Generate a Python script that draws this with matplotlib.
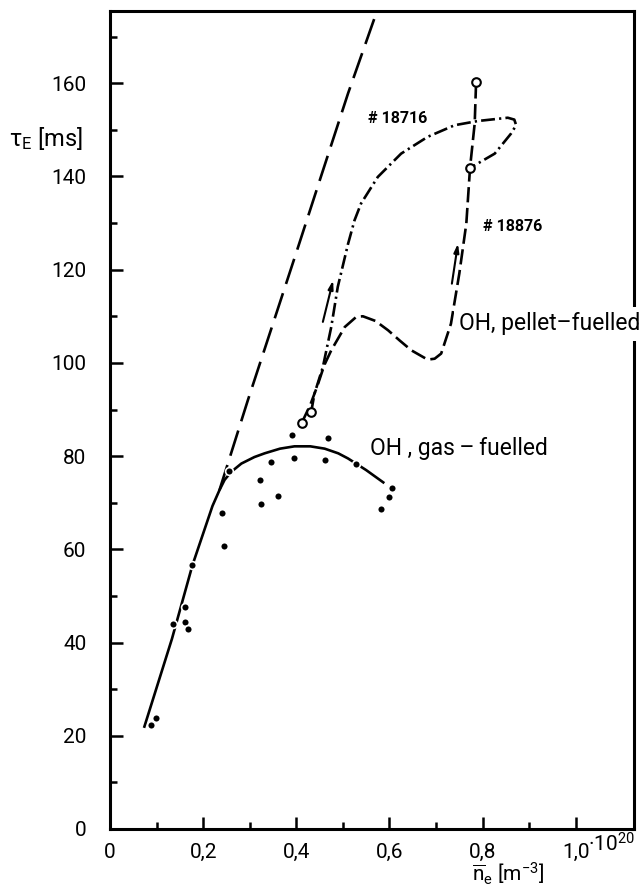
import matplotlib.pyplot as plt
from matplotlib.ticker import FixedLocator, MultipleLocator

plt.rcParams['font.family'] = ['Roboto', 'DejaVu Sans']
plt.rcParams['mathtext.fontset'] = 'custom'
plt.rcParams['mathtext.rm'] = 'Roboto'
plt.rcParams['mathtext.it'] = 'Roboto:italic'
plt.rcParams['lines.scale_dashes'] = False

# ohmic scaling line (dashed)
scal_ne = [0.235, 0.296, 0.361, 0.403, 0.453, 0.511, 0.575]
scal_tau = [72.7, 92.0, 111.8, 124.6, 140.0, 157.8, 176.0]

# OH gas-fuelled: fitted curve and measured points
gas_ne = [0.073, 0.133, 0.177, 0.220, 0.235, 0.246, 0.260, 0.282, 0.310, 0.332,
          0.365, 0.396, 0.430, 0.461, 0.490, 0.511, 0.550, 0.589]
gas_tau = [21.7, 40.8, 56.6, 69.3, 72.7, 74.9, 76.6, 78.4, 79.8, 80.6,
           81.6, 82.1, 82.1, 81.6, 80.6, 79.5, 77.0, 74.2]
pts_ne = [0.089, 0.099, 0.135, 0.162, 0.162, 0.167, 0.177, 0.241, 0.245, 0.255, 0.321,
          0.325, 0.345, 0.361, 0.391, 0.396, 0.461, 0.468, 0.529, 0.581, 0.600, 0.606]
pts_tau = [22.3, 23.8, 43.9, 47.6, 44.4, 42.9, 56.6, 67.9, 60.7, 76.8, 74.8,
           69.8, 78.7, 71.5, 84.5, 79.6, 79.1, 83.8, 78.3, 68.6, 71.2, 73.2]

# shot 18716 (dash-dot)
s1_ne = [0.432, 0.439, 0.457, 0.475, 0.489, 0.511, 0.525, 0.539, 0.575, 0.625, 0.682,
         0.740, 0.790, 0.854, 0.868, 0.872, 0.861, 0.826, 0.783, 0.773]
s1_tau = [89.5, 93.4, 99.1, 107.7, 116.3, 125.5, 130.6, 134.2, 139.9, 144.9, 148.5,
          151.0, 151.9, 152.6, 152.2, 151.0, 149.2, 144.9, 142.4, 141.9]

# shot 18876 (dashed)
s2_ne = [0.412, 0.430, 0.445, 0.460, 0.475, 0.504, 0.529, 0.543, 0.570, 0.597, 0.622,
         0.647, 0.682, 0.697, 0.711, 0.732, 0.750, 0.765, 0.773, 0.783, 0.786]
s2_tau = [87.2, 91.0, 95.0, 99.5, 102.7, 107.7, 109.9, 110.0, 109.0, 107.0, 104.8,
          102.7, 100.7, 100.9, 102.0, 108.4, 119.2, 129.9, 141.9, 151.4, 160.3]

# open circles: start and end of the pellet shots
ring_ne = [0.412, 0.432, 0.773, 0.786]
ring_tau = [87.2, 89.5, 141.9, 160.3]

# direction arrows (tail, head)
arrows = [((0.457, 108.8), (0.479, 117.7)),
          ((0.734, 117.0), (0.747, 125.6))]

xticks = [0, 0.2, 0.4, 0.6, 0.8, 1.0]
xticklabels = ['0', '0,2', '0,4', '0,6', '0,8', '1,0']
yticks = [0, 20, 40, 60, 80, 100, 120, 140, 160]

fig = plt.figure(figsize=(6.41, 8.92), dpi=100)
ax = fig.add_axes([110 / 641, 1 - 829 / 892, 524 / 641, 818 / 892])

lw = 1.9
ax.plot(scal_ne, scal_tau, color='k', lw=lw, ls=(0, (19, 7)))
ax.plot(gas_ne, gas_tau, color='k', lw=lw, solid_capstyle='butt')
ax.plot(pts_ne, pts_tau, 'o', color='k', ms=5.6, mec='white', mew=1.2, zorder=4)
ax.plot(s1_ne, s1_tau, color='k', lw=lw, ls=(0, (10, 3, 1.6, 3)))
ax.plot(s2_ne, s2_tau, color='k', lw=lw, ls=(0, (11, 4)))
ax.plot(ring_ne, ring_tau, 'o', mfc='white', mec='k', mew=1.5, ms=6.2, zorder=5)

for tail, head in arrows:
    ax.annotate('', xy=head, xytext=tail,
                arrowprops=dict(arrowstyle='-|>,head_length=0.5,head_width=0.15',
                                lw=1.5, color='k', shrinkA=0, shrinkB=0))

ax.text(0.554, 152.4, '# 18716', fontsize=11.5, fontweight='bold', va='center')
ax.text(0.800, 129.2, '# 18876', fontsize=11.5, fontweight='bold', va='center')
ax.text(0.750, 108.4, 'OH, pellet\u2013fuelled', fontsize=16.5, va='center', zorder=6,
        clip_on=False, bbox=dict(facecolor='white', edgecolor='none', pad=4))
ax.text(0.558, 81.6, 'OH , gas\u2009\u2013\u2009fuelled', fontsize=16.5, va='center')

ax.set_xlim(0, 1.125)
ax.set_ylim(0, 175.5)

ax.xaxis.set_major_locator(FixedLocator(xticks))
ax.xaxis.set_minor_locator(FixedLocator([0.1, 0.3, 0.5, 0.7, 0.9]))
ax.set_xticklabels(xticklabels)
ax.yaxis.set_major_locator(FixedLocator(yticks))
ax.yaxis.set_minor_locator(MultipleLocator(10))

ax.tick_params(which='both', direction='in', width=1.8, labelsize=15,
               top=False, right=False)
ax.tick_params(which='major', length=9)
ax.tick_params(which='minor', length=5)
ax.tick_params(axis='x', pad=10)
ax.tick_params(axis='y', pad=17)
for sp in ax.spines.values():
    sp.set_linewidth(2.2)

fig.text(588 / 641, 1 - 852 / 892, '\u00b710$^{20}$', fontsize=15, ha='left', va='baseline')
fig.text(472 / 641, 1 - 874 / 892,
         r'$\overline{\mathregular{n}}_\mathregular{e}$ [m$^{\mathregular{-3}}$]',
         fontsize=15, ha='left', va='center')
fig.text(83 / 641, 1 - 138 / 892, '\u03c4$_\\mathregular{E}$ [ms]', fontsize=17,
         ha='right', va='center')

fig.savefig('out.png', dpi=100)
